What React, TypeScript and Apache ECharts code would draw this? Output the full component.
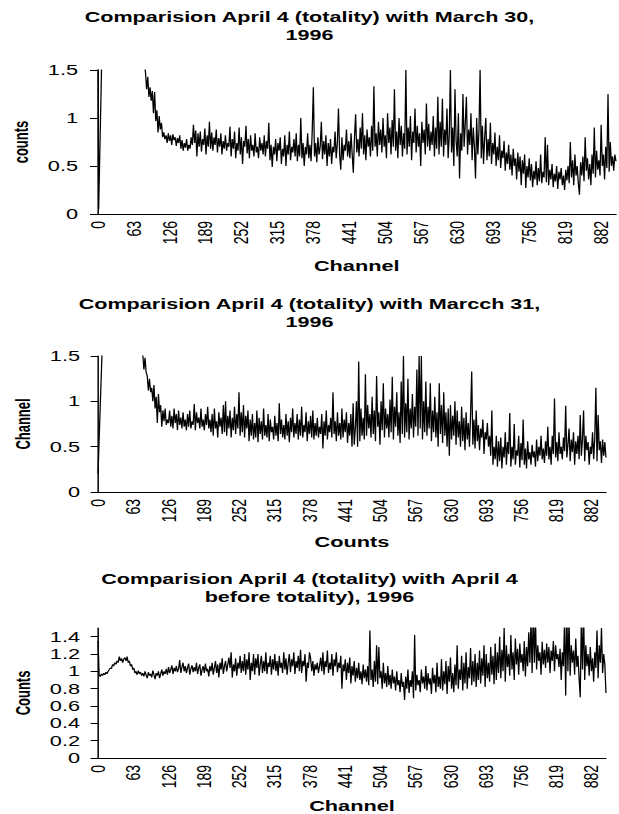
import React, { useEffect, useRef } from "react";
import * as echarts from "echarts";

// channel step between successive values
const CHANNEL_STEP = 2;
const X_TICK_LABELS = [0, 63, 126, 189, 252, 315, 378, 441, 504, 567, 630, 693, 756, 819, 882];

const TITLES = [
  "Comparision April 4 (totality) with March 30,\n1996",
  "Comparision April 4 (totality) with Marcch 31,\n1996",
  "Comparision April 4 (totality) with April 4\nbefore totality), 1996",
];
const X_NAMES = ["Channel", "Counts", "Channel"];
const Y_NAMES = ["counts", "Channel", "Counts"];
const Y_TICKS_A = [0, 0.5, 1, 1.5];
const Y_TICKS_C = [0, 0.2, 0.4, 0.6, 0.8, 1, 1.2, 1.4];

// ratio April 4 (totality) / March 30
const march30 = [
  3.1, 0.05, 0.63, 1.21, 1.79, 2.3, 2.6, 2.8, 2.9, 3.0, 3.0, 2.9, 2.9, 2.8, 2.8, 2.7, 2.7, 2.6, 2.6, 2.5,
  2.5, 2.4, 2.4, 2.3, 2.3, 2.2, 2.2, 2.1, 2.1, 2.0, 2.0, 1.95, 1.9, 1.9, 1.85, 1.8, 1.8, 1.75, 1.7, 1.65,
  1.6, 1.55, 1.48, 1.3, 1.43, 1.22, 1.32, 1.18, 1.28, 1.05, 1.27, 0.97, 1.08, 0.85, 1.02, 0.88, 0.95, 0.8, 0.85, 0.78,
  0.82, 0.74, 0.84, 0.76, 0.82, 0.72, 0.83, 0.77, 0.8, 0.71, 0.79, 0.74, 0.82, 0.68, 0.77, 0.66, 0.74, 0.69, 0.78, 0.66,
  0.72, 0.68, 0.8, 0.72, 0.93, 0.74, 0.87, 0.6, 0.84, 0.7, 0.86, 0.65, 0.78, 0.72, 0.89, 0.62, 0.82, 0.7, 0.96, 0.68,
  0.85, 0.66, 0.8, 0.72, 0.88, 0.64, 0.79, 0.7, 0.84, 0.62, 0.76, 0.68, 0.82, 0.66, 0.74, 0.7, 0.91, 0.6, 0.78, 0.68,
  0.86, 0.58, 0.74, 0.66, 0.9, 0.62, 0.8, 0.52, 0.76, 0.7, 0.92, 0.63, 0.78, 0.58, 0.82, 0.66, 0.72, 0.6, 0.84, 0.64,
  0.7, 0.58, 0.8, 0.66, 0.74, 0.62, 0.82, 0.6, 0.76, 0.68, 0.95, 0.56, 0.72, 0.49, 0.7, 0.62, 0.78, 0.55, 0.74, 0.66,
  0.8, 0.52, 0.68, 0.6, 0.82, 0.5, 0.72, 0.62, 0.86, 0.56, 0.7, 0.64, 0.78, 0.6, 0.84, 0.55, 0.72, 0.6, 1.0, 0.58,
  0.74, 0.5, 0.7, 0.62, 0.84, 0.58, 0.72, 0.55, 0.86, 1.32, 0.6, 0.74, 0.54, 0.8, 0.62, 0.7, 0.96, 0.57, 0.76, 0.62,
  0.82, 0.5, 0.74, 0.6, 0.78, 0.52, 0.7, 0.64, 0.86, 0.58, 0.74, 1.1, 0.62, 0.46, 0.8, 0.56, 0.72, 0.66, 0.88, 0.6,
  0.76, 0.58, 0.84, 0.62, 0.43, 0.8, 1.04, 0.64, 0.78, 0.6, 0.9, 0.68, 1.05, 0.62, 0.82, 0.56, 0.88, 0.7, 0.8, 0.6,
  0.92, 0.66, 1.33, 0.7, 0.84, 0.6, 0.96, 0.72, 0.88, 0.64, 1.0, 0.7, 0.82, 0.58, 1.05, 0.74, 0.9, 0.62, 0.98, 0.7,
  1.3, 0.66, 0.86, 0.58, 1.0, 0.72, 0.92, 0.6, 0.84, 0.68, 1.5, 0.62, 0.9, 0.7, 1.02, 0.56, 0.86, 0.74, 1.1, 0.64,
  0.92, 0.7, 0.84, 0.5, 0.96, 0.74, 0.88, 0.62, 1.15, 0.7, 0.94, 0.66, 0.86, 0.72, 1.02, 0.6, 0.9, 0.68, 1.22, 0.62,
  0.96, 0.7, 1.2, 0.6, 0.88, 0.72, 1.1, 0.58, 0.82, 1.5, 0.64, 0.9, 0.5, 1.3, 0.76, 0.6, 1.05, 0.37, 0.84, 0.66,
  1.25, 0.7, 0.94, 1.22, 0.62, 0.88, 0.72, 1.05, 0.56, 0.9, 0.7, 0.37, 1.0, 0.62, 0.86, 1.5, 0.58, 0.92, 0.52, 0.8,
  1.0, 0.56, 0.78, 0.6, 0.95, 0.52, 0.74, 0.62, 0.85, 0.5, 0.7, 0.56, 0.82, 0.48, 0.66, 0.58, 0.76, 0.45, 0.64, 0.52,
  0.72, 0.46, 0.62, 0.4, 0.68, 0.5, 0.58, 0.36, 0.64, 0.44, 0.6, 0.3, 0.56, 0.42, 0.62, 0.27, 0.5, 0.38, 0.58, 0.35,
  0.52, 0.28, 0.45, 0.36, 0.55, 0.3, 0.48, 0.34, 0.62, 0.32, 0.44, 0.38, 0.8, 0.33, 0.72, 0.3, 0.46, 0.36, 0.52, 0.28,
  0.42, 0.34, 0.5, 0.26, 0.44, 0.36, 0.48, 0.3, 0.4, 0.25, 0.46, 0.35, 0.5, 0.32, 0.75, 0.38, 0.56, 0.3, 0.62, 0.4,
  0.5, 0.32, 0.2, 0.54, 0.4, 0.6, 0.34, 0.8, 0.45, 0.58, 0.36, 0.52, 0.3, 0.62, 0.42, 0.9, 0.38, 0.66, 0.46, 0.56,
  0.4, 0.93, 0.5, 0.62, 0.36, 0.7, 0.48, 1.25, 0.44, 0.75, 0.5, 0.6, 0.45, 0.62, 0.55,
];

// ratio April 4 (totality) / March 31
const march31 = [
  0.2, 0.58, 0.95, 1.32, 1.69, 2.0, 2.3, 2.5, 2.6, 2.7, 2.7, 2.8, 2.8, 2.8, 2.7, 2.7, 2.6, 2.6, 2.5, 2.5,
  2.4, 2.4, 2.3, 2.3, 2.2, 2.2, 2.1, 2.1, 2.0, 2.0, 1.95, 1.9, 1.85, 1.8, 1.8, 1.75, 1.7, 1.65, 1.6, 1.58,
  1.52, 1.35, 1.48, 1.32, 1.28, 1.12, 1.25, 1.1, 1.15, 1.0, 1.18, 0.92, 1.05, 0.76, 1.08, 0.88, 0.96, 0.72, 0.9, 0.78,
  0.92, 0.74, 0.8, 0.76, 0.9, 0.72, 0.84, 0.7, 0.92, 0.76, 0.86, 0.68, 0.9, 0.74, 0.82, 0.7, 0.88, 0.72, 0.8, 0.68,
  0.86, 0.72, 0.9, 0.7, 0.78, 0.74, 0.97, 0.68, 0.88, 0.76, 0.82, 0.7, 0.92, 0.72, 0.8, 0.68, 0.86, 0.74, 0.94, 0.7,
  0.8, 0.66, 0.86, 0.62, 0.92, 0.7, 0.78, 0.6, 0.88, 0.72, 0.82, 0.64, 0.96, 0.66, 1.0, 0.62, 0.84, 0.7, 0.9, 0.6,
  0.82, 0.68, 0.94, 0.64, 0.86, 0.7, 1.1, 0.62, 0.88, 0.66, 0.96, 0.6, 0.84, 0.7, 0.9, 0.56, 0.8, 0.62, 0.86, 0.58,
  0.76, 0.6, 0.9, 0.55, 0.82, 0.64, 0.78, 0.58, 0.92, 0.62, 0.74, 0.6, 0.86, 0.56, 0.8, 0.66, 0.72, 0.58, 0.84, 0.62,
  0.76, 0.56, 0.98, 0.64, 0.8, 0.6, 0.74, 0.58, 0.86, 0.62, 0.78, 0.55, 0.82, 0.66, 0.92, 0.6, 0.76, 0.64, 0.86, 0.58,
  0.8, 0.62, 0.94, 0.6, 0.74, 0.66, 0.88, 0.56, 0.78, 0.64, 0.84, 0.6, 0.9, 0.58, 0.76, 0.62, 0.82, 0.6, 0.72, 0.64,
  0.86, 0.48, 0.78, 0.62, 0.9, 0.58, 0.74, 0.66, 0.82, 0.6, 1.1, 0.64, 0.78, 0.56, 0.88, 0.62, 0.76, 0.58, 0.92, 0.6,
  0.8, 0.66, 0.88, 0.54, 0.76, 0.62, 0.86, 0.5, 0.98, 0.52, 0.7, 1.0, 0.5, 1.44, 0.56, 0.92, 0.62, 0.82, 0.58, 1.3,
  0.62, 0.96, 0.7, 0.86, 0.6, 1.05, 0.64, 0.9, 0.56, 1.28, 0.72, 0.88, 0.52, 1.0, 0.68, 1.2, 0.6, 0.92, 0.7, 0.86,
  0.6, 1.02, 0.66, 1.27, 0.58, 0.94, 0.72, 1.1, 0.62, 0.88, 0.54, 1.22, 0.64, 1.5, 0.6, 0.98, 0.66, 1.25, 0.58, 0.92,
  0.7, 1.08, 0.6, 0.94, 0.72, 1.35, 0.62, 1.5, 0.7, 1.5, 0.58, 1.0, 0.66, 1.22, 0.62, 0.94, 0.7, 1.2, 0.56, 0.9,
  0.66, 1.05, 0.6, 0.88, 0.5, 1.2, 0.64, 0.96, 0.54, 1.1, 0.62, 0.88, 0.5, 0.92, 0.4, 0.96, 0.58, 0.84, 0.62, 1.0,
  0.52, 0.9, 0.6, 0.78, 0.5, 0.94, 0.56, 0.82, 0.46, 0.88, 0.58, 0.76, 0.5, 0.86, 1.33, 0.52, 0.8, 0.48, 0.9, 0.56,
  0.74, 0.46, 0.7, 0.6, 0.8, 0.42, 0.66, 0.58, 0.76, 0.5, 0.62, 0.4, 0.9, 0.3, 0.5, 0.36, 0.62, 0.28, 0.56, 0.34,
  0.6, 0.26, 0.5, 0.38, 0.66, 0.3, 0.55, 0.42, 0.87, 0.28, 0.5, 0.36, 0.75, 0.3, 0.46, 0.4, 0.62, 0.27, 0.54, 0.35,
  0.8, 0.3, 0.48, 0.26, 0.56, 0.36, 0.44, 0.3, 0.52, 0.38, 0.45, 0.28, 0.58, 0.34, 0.5, 0.4, 0.62, 0.36, 0.48, 0.32,
  0.56, 0.4, 0.72, 0.36, 0.5, 0.3, 0.62, 0.42, 1.03, 0.38, 0.55, 0.34, 0.66, 0.42, 0.5, 0.36, 0.6, 0.45, 0.95, 0.38,
  0.52, 0.7, 0.34, 0.58, 0.44, 0.66, 0.3, 0.56, 0.42, 0.62, 0.36, 0.85, 0.4, 0.58, 0.9, 0.34, 0.62, 0.46, 0.55, 0.3,
  0.5, 0.42, 0.66, 0.36, 0.6, 1.15, 0.34, 0.85, 0.46, 0.56, 0.32, 0.58, 0.4, 0.55, 0.38,
];

// ratio April 4 (totality) / April 4 before totality
const april4Before = [
  1.35, 0.96, 0.94, 0.97, 0.95, 0.98, 0.96, 0.99, 0.97, 1.0, 1.02, 1.04, 1.03, 1.08, 1.06, 1.1, 1.08, 1.12, 1.1, 1.17,
  1.12, 1.15, 1.1, 1.14, 1.16, 1.12, 1.17, 1.1, 1.12, 1.06, 1.08, 1.02, 1.04, 0.98, 1.0, 0.96, 1.01, 0.97, 0.99, 0.95,
  0.98, 0.94, 1.0, 0.96, 0.92, 0.99, 0.95, 0.97, 0.93, 1.01, 0.96, 0.91, 0.98, 0.95, 1.0, 0.92, 0.97, 1.02, 0.95, 1.0,
  0.97, 1.03, 0.96, 1.05, 0.98, 1.02, 1.07, 0.97, 1.04, 1.0, 1.06, 0.99, 1.03, 1.13, 0.98, 1.05, 1.1, 1.0, 1.06, 0.98,
  1.04, 1.09, 0.96, 1.03, 1.07, 0.99, 1.05, 1.0, 1.1, 0.97, 1.04, 1.08, 0.95, 1.02, 1.06, 0.98, 1.09, 1.0, 1.03, 0.94,
  1.06, 1.0, 1.1, 0.96, 1.04, 1.12, 0.98, 1.08, 0.93, 1.1, 1.02, 1.15, 0.97, 1.06, 1.12, 1.0, 1.08, 1.16, 1.04, 1.22,
  0.93, 1.08, 1.0, 1.15, 0.95, 1.1, 1.03, 1.18, 0.98, 1.12, 1.0, 1.2, 0.96, 1.14, 1.02, 1.22, 0.9, 1.1, 1.0, 1.2,
  0.96, 1.15, 1.04, 1.2, 0.95, 1.08, 1.18, 0.98, 1.12, 1.0, 1.22, 0.97, 1.1, 1.05, 1.18, 0.96, 1.14, 1.02, 1.2, 1.0,
  1.12, 0.95, 1.18, 1.04, 1.1, 0.98, 1.22, 1.02, 1.15, 0.96, 1.1, 1.2, 0.99, 1.14, 1.06, 1.22, 0.97, 1.12, 1.04, 1.18,
  1.0, 1.25, 0.98, 1.12, 1.06, 1.2, 0.88, 1.1, 1.04, 1.22, 1.15, 1.0, 1.12, 0.95, 1.08, 1.02, 1.1, 0.98, 1.06, 1.16,
  1.0, 1.22, 0.96, 1.12, 1.05, 1.24, 0.98, 1.1, 1.02, 1.2, 0.95, 1.14, 1.06, 1.22, 0.99, 1.1, 1.04, 1.18, 0.8, 1.08,
  1.0, 1.14, 0.9, 1.1, 0.98, 1.16, 0.86, 1.06, 0.95, 1.12, 0.88, 1.04, 0.92, 1.1, 0.9, 1.0, 0.85, 1.08, 0.92, 1.02,
  0.88, 1.06, 0.84, 1.47, 0.9, 1.02, 0.82, 1.12, 0.88, 1.3, 0.85, 1.28, 0.92, 1.0, 0.8, 1.1, 0.86, 0.98, 0.82, 1.06,
  0.84, 0.96, 0.8, 1.02, 0.86, 0.94, 0.78, 1.0, 0.84, 0.9, 0.76, 0.98, 0.82, 0.88, 0.67, 0.94, 0.8, 1.02, 0.75, 0.9,
  0.82, 1.0, 0.69, 1.42, 0.78, 0.96, 0.84, 0.9, 0.76, 1.02, 0.86, 0.94, 0.8, 1.06, 0.78, 0.98, 0.85, 0.92, 0.74, 1.04,
  0.86, 0.96, 0.76, 1.1, 0.82, 0.94, 0.8, 1.14, 0.78, 1.0, 0.85, 1.12, 0.74, 1.06, 0.88, 1.16, 0.8, 0.98, 0.76, 1.08,
  0.84, 1.3, 0.8, 1.02, 0.9, 1.18, 0.78, 1.1, 0.86, 1.22, 0.8, 1.05, 0.92, 1.27, 0.84, 1.12, 0.88, 1.2, 0.82, 1.1,
  0.9, 1.24, 0.86, 1.15, 0.95, 1.3, 0.82, 1.2, 0.92, 1.1, 0.88, 1.28, 0.96, 1.18, 0.85, 1.32, 0.9, 1.22, 0.98, 1.4,
  0.92, 1.25, 1.0, 1.5, 0.88, 1.3, 1.05, 1.2, 0.95, 1.42, 1.02, 1.22, 0.9, 1.38, 1.08, 1.26, 0.96, 1.32, 1.1, 1.2,
  1.0, 1.35, 0.94, 1.28, 1.06, 1.45, 1.1, 1.6, 0.98, 1.7, 1.1, 1.6, 1.02, 1.3, 1.12, 1.22, 0.96, 1.34, 1.08, 1.25,
  1.04, 1.32, 1.1, 1.28, 0.98, 1.24, 1.12, 1.35, 1.0, 1.3, 1.14, 1.2, 1.05, 1.26, 0.9, 1.22, 1.06, 1.6, 0.72, 1.7,
  1.0, 1.6, 0.95, 1.3, 1.1, 1.24, 0.96, 1.38, 1.05, 1.18, 0.92, 0.7, 1.6, 1.02, 1.7, 0.9, 1.3, 1.06, 1.2, 0.95,
  1.28, 1.0, 1.15, 0.88, 1.22, 1.04, 1.47, 0.92, 1.3, 1.1, 1.5, 0.98, 1.2, 1.08, 0.75,
];

const SERIES = [march30, march31, april4Before];

const PAGE_W = 619;
const CHART_W = 413;
const CHART_H = 814;
const SX = PAGE_W / CHART_W;
const FONT = "'Liberation Sans', Arial, sans-serif";
const X_MAX = 908;

const GRIDS = [
  { left: 61.4, right: 2, top: 70, height: 144 },
  { left: 65.4, right: 8.7, top: 356, height: 136 },
  { left: 65.4, right: 8.7, top: 628, height: 131 },
];
const TITLE_TOPS = [8, 295, 570];
const X_NAME_GAPS = [44, 42, 40];
const Y_NAME_GAPS = [43, 42, 42];
const Y_LABEL_MARGINS = [13, 12, 12];

export default function App() {
  const ref = useRef<HTMLDivElement>(null);
  useEffect(() => {
    if (!ref.current) return;
    document.body.style.overflow = "hidden";
    const chart = echarts.init(ref.current, null, { renderer: "svg" });
    const xAxis = GRIDS.map((_, i) => ({
      type: "value",
      gridIndex: i,
      min: 0,
      max: X_MAX,
      interval: 63,
      name: X_NAMES[i],
      nameLocation: "middle",
      nameGap: X_NAME_GAPS[i],
      nameTextStyle: { fontFamily: FONT, fontWeight: "bold", fontSize: 14.5, color: "#000" },
      splitLine: { show: false },
      axisTick: { show: false },
      axisLine: { show: true, onZero: false, lineStyle: { color: "#000", width: 1 } },
      axisLabel: {
        rotate: 90,
        margin: 7,
        showMaxLabel: false,
        fontFamily: FONT,
        fontSize: 14,
        color: "#000",
        formatter: (v: number) => (X_TICK_LABELS.indexOf(v) >= 0 ? String(v) : ""),
      },
    }));
    const yAxis = GRIDS.map((_, i) => {
      const ticks = i === 2 ? Y_TICKS_C : Y_TICKS_A;
      return {
        type: "value",
        gridIndex: i,
        min: 0,
        max: 1.5,
        interval: i === 2 ? 0.2 : 0.5,
        name: Y_NAMES[i],
        nameLocation: "middle",
        nameGap: Y_NAME_GAPS[i],
        nameRotate: 90,
        nameTextStyle: { fontFamily: FONT, fontWeight: "bold", fontSize: 13, color: "#000" },
        splitLine: { show: false },
        axisLine: { show: true, lineStyle: { color: "#000", width: 1 } },
        axisTick: { show: true, inside: false, length: 5, lineStyle: { color: "#000" }, customValues: ticks },
        axisLabel: {
          margin: Y_LABEL_MARGINS[i],
          fontFamily: FONT,
          fontSize: 14.5,
          color: "#000",
          customValues: ticks,
          formatter: (v: number) => (ticks.indexOf(v) >= 0 ? String(v) : ""),
        },
      };
    });
    const series = SERIES.map((vals, i) => ({
      type: "line",
      xAxisIndex: i,
      yAxisIndex: i,
      data: vals.map((v, k) => [k * CHANNEL_STEP, v]),
      showSymbol: false,
      symbol: "none",
      clip: true,
      lineStyle: { color: "#000", width: 0.85 },
    }));
    chart.setOption({
      animation: false,
      backgroundColor: "#fff",
      title: TITLES.map((t, i) => ({
        text: t,
        left: "center",
        top: TITLE_TOPS[i],
        padding: 0,
        textStyle: { fontFamily: FONT, fontWeight: "bold", fontSize: 14.4, lineHeight: 18, color: "#000" },
      })),
      grid: GRIDS.map((g) => ({ ...g, containLabel: false })),
      xAxis,
      yAxis,
      series,
    });
    return () => chart.dispose();
  }, []);
  return (
    <div
      style={{
        position: "absolute",
        left: 0,
        top: 0,
        width: CHART_W,
        height: CHART_H,
        transform: `scaleX(${SX})`,
        transformOrigin: "0 0",
        background: "#fff",
      }}
    >
      <div ref={ref} style={{ width: CHART_W, height: CHART_H }} />
    </div>
  );
}
